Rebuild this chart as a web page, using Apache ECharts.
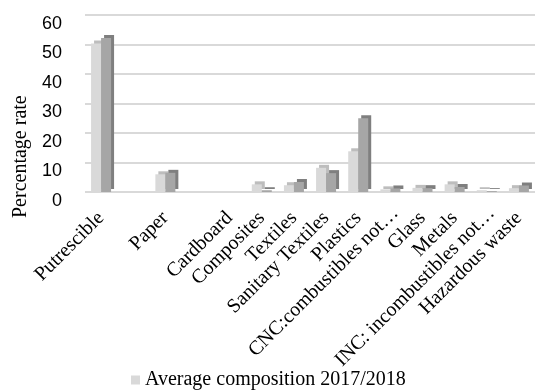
<!DOCTYPE html>
<html lang="en" style="height: 100%">
  <head>
    <meta charset="utf-8" />
    <style>
      html, body { margin: 0; padding: 0; background: #fff; }
      #container { width: 535px; height: 390px; }
    </style>
  </head>
  <body>
    <div id="container"></div>
    <script type="text/javascript" src="https://cdn.jsdelivr.net/npm/echarts@6/dist/echarts.min.js"></script>
    <script type="text/javascript">
      // waste categories (blank slots are empty columns in the original sheet)
      var categories = [
        "Putrescible", "", "Paper", "", "Cardboard", "Composites", "Textiles",
        "Sanitary Textiles", "Plastics", "CNC:combustibles not\u2026", "Glass",
        "Metals", "INC: incombustibles not\u2026", "Hazardous waste"
      ];
      var avg20172018 = [50.3, null, 6.0, null, null, 2.6, 2.3, 8.2, 13.8, 0.9, 1.4, 2.6, 0.6, 1.3];
      var secondSeries = [52.2, null, 6.5, null, null, 0.6, 3.4, 6.4, 25.0, 1.2, 1.3, 1.7, 0.3, 2.2];
      var legendNames = ["Average composition 2017/2018"];

      // the two truncated labels sit a little higher in the original
      var raised = { "CNC:combustibles not\u2026": 1, "INC: incombustibles not\u2026": 1 };
      var categoryItems = categories.map(function (c) {
        return raised[c] ? { value: c, textStyle: { padding: [0, -7, 14, 0] } } : c;
      });

      var dom = document.getElementById("container");
      var myChart = echarts.init(dom, null, { renderer: "canvas" });

      var option = {
        animation: false,
        grid: { left: 85, right: -2, top: 15, bottom: 198 },
        legend: {
          data: legendNames,
          left: 126,
          top: 365,
          itemWidth: 9,
          itemHeight: 9,
          icon: "rect",
          textStyle: { fontFamily: "Liberation Serif", fontSize: 20, color: "#000" }
        },
        graphic: [
          {
            type: "text",
            x: 11,
            y: 218,
            rotation: Math.PI / 2,
            style: {
              text: "Percentage rate",
              font: "20px 'Liberation Serif'",
              fill: "#000"
            }
          }
        ],
        xAxis: {
          type: "category",
          data: categoryItems,
          axisLine: { show: false },
          axisTick: { show: false },
          axisLabel: {
            interval: 0,
            rotate: 45,
            margin: 23,
            fontFamily: "Liberation Serif",
            fontSize: 20,
            color: "#000"
          }
        },
        yAxis: {
          type: "value",
          min: 0,
          max: 60,
          interval: 10,
          axisLine: { show: false },
          axisTick: { show: false },
          splitLine: { lineStyle: { color: "#d9d9d9", width: 2 } },
          axisLabel: {
            margin: 23,
            verticalAlign: "top",
            lineHeight: 10,
            padding: [4, 0, 0, 0],
            fontFamily: "Liberation Sans",
            fontSize: 18,
            color: "#000"
          }
        },
        series: [
          {
            name: legendNames[0],
            type: "bar",
            data: avg20172018,
            barWidth: 10,
            barGap: "0%",
            itemStyle: {
              color: "#d9d9d9",
              shadowColor: "#bdbdbd",
              shadowOffsetX: 3,
              shadowOffsetY: -3,
              shadowBlur: 0
            }
          },
          {
            name: "Series 2",
            type: "bar",
            data: secondSeries,
            barWidth: 10,
            itemStyle: {
              color: "#a6a6a6",
              shadowColor: "#7f7f7f",
              shadowOffsetX: 3,
              shadowOffsetY: -3,
              shadowBlur: 0
            }
          }
        ]
      };

      myChart.setOption(option);
      window.addEventListener("resize", myChart.resize);
    </script>
  </body>
</html>
